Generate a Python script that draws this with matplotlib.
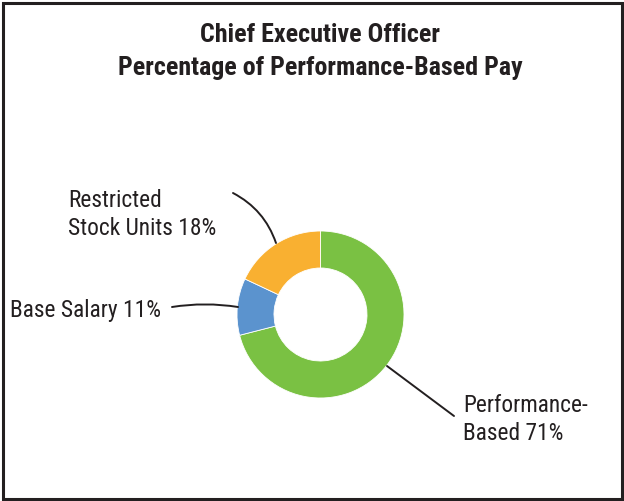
import matplotlib
matplotlib.use("Agg")
import matplotlib.pyplot as plt
from matplotlib import font_manager
from matplotlib.patches import Rectangle

available = {f.name for f in font_manager.fontManager.ttflist}
narrow = [n for n in ["Liberation Sans Narrow", "Roboto Condensed", "Arial Narrow"] if n in available]
plt.rcParams["font.family"] = narrow + ["Liberation Sans", "DejaVu Sans"]

# data (clockwise from 12 o'clock)
categories = ["Performance-\nBased", "Base Salary", "Restricted\nStock Units"]
shares = [71, 11, 18]
colors = ["#7AC143", "#5B93CE", "#F9B031"]
title_lines = ["Chief Executive Officer", "Percentage of Performance-Based Pay"]

W, H = 624, 501
TEXT = "#231F20"


def py(y):
    # pixel row (top origin) -> data y (bottom origin)
    return H - y


fig = plt.figure(figsize=(W / 100, H / 100), dpi=100)
ax = fig.add_axes([0, 0, 1, 1])

cx, cy, r = 320.5, py(314.5), 83.5
ax.pie(shares, colors=colors, startangle=90, counterclock=False,
       radius=r, center=(cx, cy),
       wedgeprops=dict(width=r * 0.443, edgecolor="white", linewidth=0.6))

ax.set_xlim(0, W)
ax.set_ylim(0, H)
ax.set_aspect("equal")
ax.axis("off")

narrow_ok = bool(narrow)
title_fs = 18.7 if narrow_ok else 16
label_fs = 16.8 if narrow_ok else 14.2

# title
ax.text(320, py(42), title_lines[0], ha="center", va="baseline",
        fontsize=title_fs, fontweight="bold", color=TEXT)
ax.text(320, py(75), title_lines[1], ha="center", va="baseline",
        fontsize=title_fs, fontweight="bold", color=TEXT)

labels = [f"{c} {s}%" for c, s in zip(categories, shares)]

# labels
ax.text(463, py(440), labels[0], ha="left", va="baseline", fontsize=label_fs,
        color=TEXT, linespacing=1.3)
ax.text(10, py(317), labels[1], ha="left", va="baseline", fontsize=label_fs, color=TEXT)
ax.text(68, py(235), labels[2], ha="left", va="baseline", fontsize=label_fs,
        color=TEXT, linespacing=1.3)

# leader lines
line_kw = dict(arrowstyle="-", color=TEXT, lw=1.4, shrinkA=0, shrinkB=0)
ax.annotate("", xy=(387, py(366)), xytext=(454, py(416)), arrowprops=line_kw)
ax.annotate("", xy=(238, py(307)), xytext=(172, py(307)),
            arrowprops=dict(line_kw, connectionstyle="arc3,rad=-0.08"))
ax.annotate("", xy=(276, py(243)), xytext=(233, py(193)),
            arrowprops=dict(line_kw, connectionstyle="arc3,rad=-0.2"))

# outer frame
fig.patches.append(Rectangle((2.5 / W, 2.5 / H), (W - 5) / W, (H - 5) / H,
                             transform=fig.transFigure, fill=False,
                             edgecolor=TEXT, linewidth=2.2))

fig.savefig("out.png", dpi=100)
